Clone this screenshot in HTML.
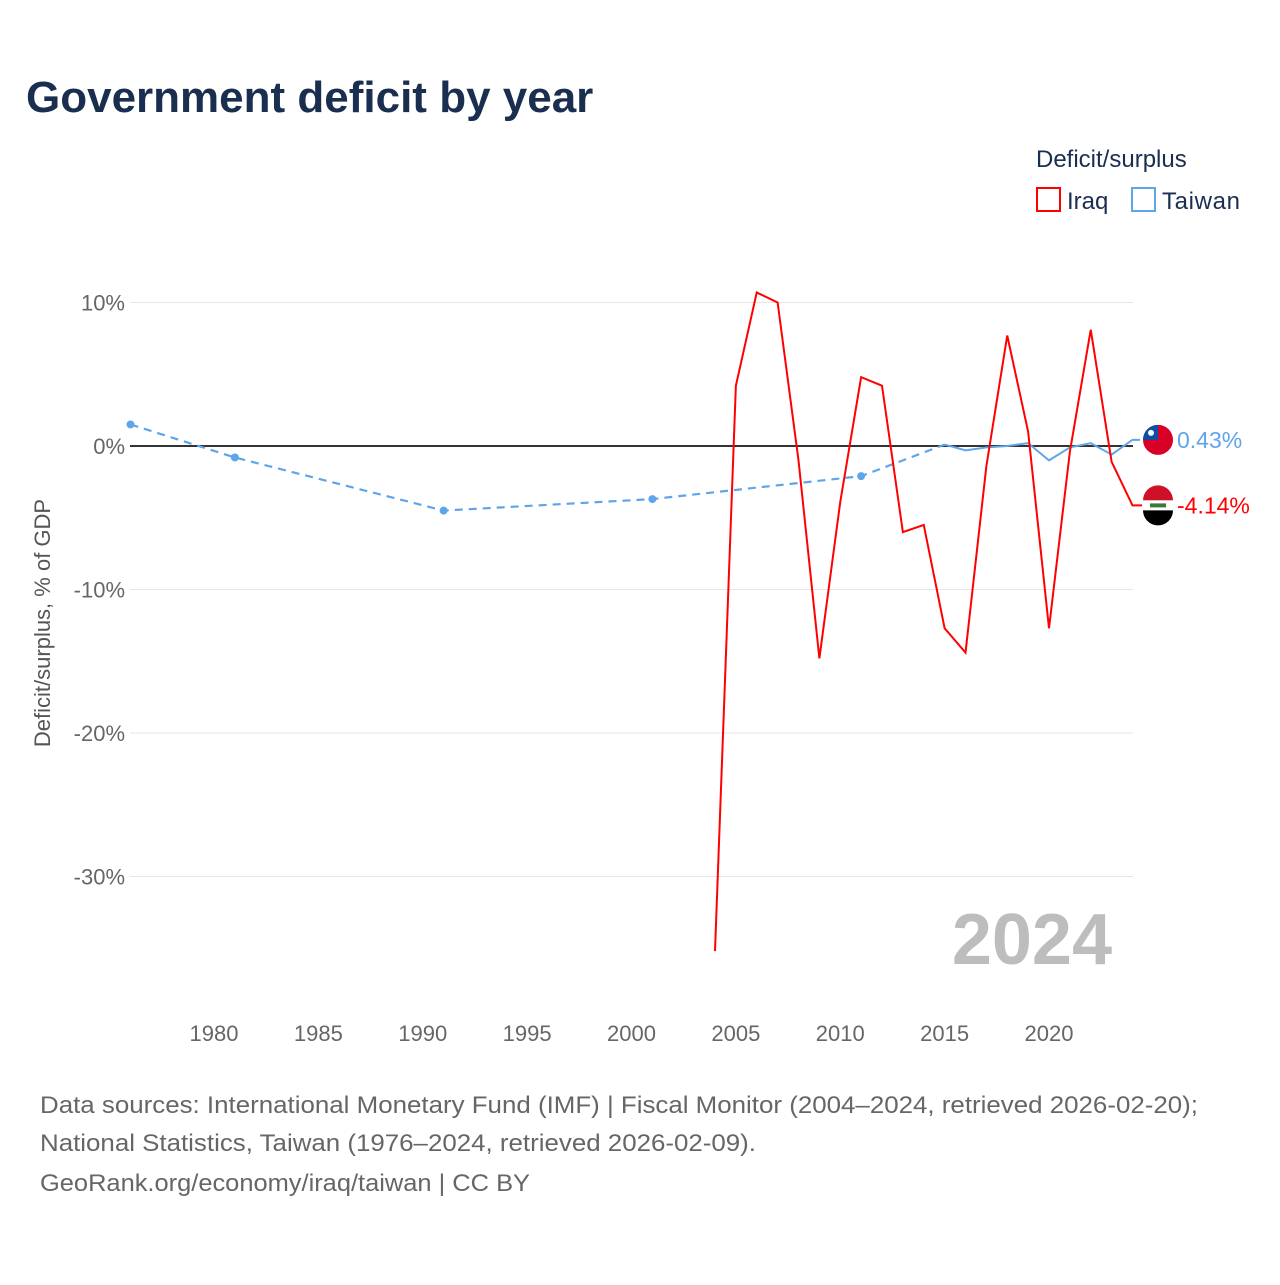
<!DOCTYPE html>
<html><head><meta charset="utf-8">
<style>
body{margin:0;background:#fff;font-family:"Liberation Sans",sans-serif;}
svg text{font-family:"Liberation Sans",sans-serif;}
</style></head>
<body>
<svg width="1280" height="1280" viewBox="0 0 1280 1280" xmlns="http://www.w3.org/2000/svg">
<rect width="1280" height="1280" fill="#fff"/>
<text x="26" y="112" font-size="44" font-weight="bold" fill="#1a2e4f">Government deficit by year</text>
<text x="1036" y="167" font-size="24" fill="#1a2e4f">Deficit/surplus</text>
<g><rect x="1037" y="188" width="23" height="23" fill="none" stroke="#f00" stroke-width="2"/><text x="1067" y="209" font-size="24" fill="#1a2e4f">Iraq</text></g>
<g><rect x="1132" y="188" width="23" height="23" fill="none" stroke="#5ea5ea" stroke-width="2"/><text x="1162" y="209" font-size="24" fill="#1a2e4f" textLength="78">Taiwan</text></g>
<g id="grid"></g>
<g id="marks"></g>
<text x="1112" y="964" text-anchor="end" font-size="72" font-weight="bold" fill="#bdbdbd">2024</text>
<text transform="translate(50,623) rotate(-90)" text-anchor="middle" font-size="22" fill="#555">Deficit/surplus, % of GDP</text>
<g font-size="24" fill="#666">
<text x="40" y="1113" textLength="1158" lengthAdjust="spacingAndGlyphs">Data sources: International Monetary Fund (IMF) | Fiscal Monitor (2004–2024, retrieved 2026-02-20);</text>
<text x="40" y="1151" textLength="716" lengthAdjust="spacingAndGlyphs">National Statistics, Taiwan (1976–2024, retrieved 2026-02-09).</text>
<text x="40" y="1191" textLength="490" lengthAdjust="spacingAndGlyphs">GeoRank.org/economy/iraq/taiwan | CC BY</text>
</g>
</svg>
<script>
const yTicks=[10,0,-10,-20,-30];
const xTicks=[1980,1985,1990,1995,2000,2005,2010,2015,2020];
const iraqYears=[2004,2005,2006,2007,2008,2009,2010,2011,2012,2013,2014,2015,2016,2017,2018,2019,2020,2021,2022,2023,2024];
const iraqValues=[-35.2,4.2,10.7,10.0,-1.0,-14.8,-3.9,4.8,4.2,-6.0,-5.5,-12.7,-14.4,-1.4,7.7,1.0,-12.7,-0.4,8.1,-1.1,-4.14];
const twSparseYears=[1976,1981,1991,2001,2011,2015];
const twSparseValues=[1.5,-0.8,-4.5,-3.7,-2.1,0.1];
const twYears=[2015,2016,2017,2018,2019,2020,2021,2022,2023,2024];
const twValues=[0.1,-0.3,-0.1,0.0,0.2,-1.0,-0.1,0.2,-0.6,0.43];
const NS="http://www.w3.org/2000/svg";
const X=y=>130.5+(y-1976)*20.875;
const Y=v=>446-v*14.35;
function mk(t,a,p){const e=document.createElementNS(NS,t);for(const k in a)e.setAttribute(k,a[k]);p.appendChild(e);return e;}
const grid=document.getElementById('grid'),marks=document.getElementById('marks');
yTicks.forEach(t=>{
  if(t!==0){const l=mk('line',{x1:130,x2:1133,y1:Y(t),y2:Y(t),stroke:'#e6e6e6','stroke-width':1},grid);
  
  }
  const tx=mk('text',{x:125,y:Y(t)+8,'text-anchor':'end','font-size':22,fill:'#666'},grid);tx.textContent=t+'%';
  
  
});
const z=mk('line',{x1:130,x2:1133,y1:Y(0),y2:Y(0),stroke:'#333','stroke-width':2},grid);


xTicks.forEach(t=>{const tx=mk('text',{x:X(t),y:1041,'text-anchor':'middle','font-size':22,fill:'#666'},grid);tx.textContent=t;
  
  });
const pts=(ys,vs)=>ys.map((y,i)=>X(y)+','+Y(vs[i])).join(' ');
const d=mk('polyline',{points:pts(twSparseYears,twSparseValues),fill:'none',stroke:'#5ea5ea','stroke-width':2.2,'stroke-dasharray':'8,6'},marks);


twSparseYears.slice(0,-1).forEach((y,i)=>{const c=mk('circle',{cx:X(y),cy:Y(twSparseValues[i]),r:4,fill:'#5ea5ea'},marks);
  
  });
const tl=mk('polyline',{points:pts(twYears,twValues)+' 1140,'+Y(twValues[twValues.length-1]),fill:'none',stroke:'#5ea5ea','stroke-width':2},marks);


const il=mk('polyline',{points:pts(iraqYears,iraqValues)+' 1142,'+Y(iraqValues[iraqValues.length-1]),fill:'none',stroke:'#f00','stroke-width':2},marks);


const tv=twValues[twValues.length-1],iv=iraqValues[iraqValues.length-1];
const f1=mk('g',{},marks);


mk('circle',{cx:1158,cy:Y(tv),r:15,fill:'#d80027'},f1);
mk('path',{d:`M1143,${Y(tv)} A15,15 0 0 1 1158,${Y(tv)-15} L1158,${Y(tv)} Z`,fill:'#0a4fa8'},f1);
mk('circle',{cx:1151,cy:Y(tv)-7,r:3,fill:'#fff'},f1);
const f2=mk('g',{},marks);


const iy=Y(iv);
mk('path',{d:`M1143,${iy-5} A15,15 0 0 1 1173,${iy-5} Z`,fill:'#ce1126'},f2);
mk('rect',{x:1143,y:iy-5,width:30,height:10,fill:'#fff'},f2);
mk('path',{d:`M1143,${iy+5} A15,15 0 0 0 1173,${iy+5} Z`,fill:'#000'},f2);
mk('rect',{x:1150,y:iy-2,width:16,height:4,fill:'#3a7a3a'},f2);
const t1=mk('text',{x:1177,y:Y(tv)+8,'font-size':23,fill:'#5ea5ea'},marks);t1.textContent=tv.toFixed(2)+'%';


const t2=mk('text',{x:1177,y:iy+8,'font-size':23,fill:'#f00'},marks);t2.textContent=iv.toFixed(2)+'%';


</script>
</body></html>
